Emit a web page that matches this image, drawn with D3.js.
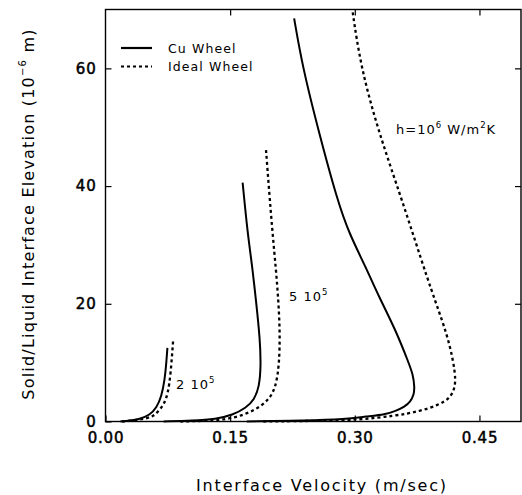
<!DOCTYPE html>
<html>
<head>
<meta charset="utf-8">
<script src="https://cdn.jsdelivr.net/npm/d3@7"></script>
<style>
  body { margin: 0; background: #fff; }
  text { font-family: "DejaVu Sans", sans-serif; fill: #000; }
</style>
</head>
<body>
<div id="chart"></div>
<script>
// values: [velocity m/s, elevation 1e-6 m]
const cu2 = [[0.018,0],[0.029,0.15],[0.041,0.4],[0.0533,1.1],[0.0613,2.3],[0.0673,4.2],[0.0713,7.1],[0.0732,10],[0.0745,12.5]];
const ideal2 = [[0.02,0],[0.035,0.2],[0.048,0.5],[0.0573,0.85],[0.0633,1.7],[0.070,2.8],[0.0753,4.8],[0.0785,8.2],[0.0813,13.6]];
const cu5 = [[0.07,0],[0.105,0.15],[0.133,0.4],[0.153,1.1],[0.169,2.3],[0.179,3.7],[0.185,5.9],[0.187,9.3],[0.186,13.9],[0.181,20.7],[0.176,27],[0.171,32],[0.165,40.6]];
const ideal5 = [[0.09,0],[0.12,0.1],[0.141,0.3],[0.161,0.85],[0.181,2.0],[0.197,3.7],[0.205,5.9],[0.209,9.6],[0.210,15],[0.208,20.7],[0.205,26],[0.201,32],[0.197,39],[0.193,46.4]];
const cu10 = [[0.17,0],[0.24,0.15],[0.289,0.4],[0.313,0.85],[0.337,1.2],[0.349,1.8],[0.360,2.5],[0.367,3.4],[0.371,4.5],[0.372,5.8],[0.370,8],[0.365,9.9],[0.349,15.6],[0.329,21.2],[0.313,26.3],[0.293,32],[0.279,37.6],[0.257,49],[0.237,60.3],[0.227,68.5]];
const ideal10 = [[0.19,0],[0.26,0.1],[0.305,0.3],[0.349,0.97],[0.377,1.7],[0.401,2.8],[0.415,4.0],[0.421,5.9],[0.421,8.2],[0.415,12.7],[0.405,17.3],[0.389,23.5],[0.357,37.6],[0.329,49],[0.307,60.3],[0.297,70]];

const xTicks = [0, 0.15, 0.30, 0.45];
const yTicks = [0, 20, 40, 60];

const width = 522;
const height = 495;
const mLeft = 105.5, mRight = 521, mTop = 9.5, mBottom = 421.5;

const svg = d3.select('#chart').append('svg')
    .attr('width', width)
    .attr('height', height);

const x = d3.scaleLinear().domain([0, 0.5]).range([mLeft, mRight]);
const y = d3.scaleLinear().domain([0, 70]).range([mBottom, mTop]);

// frame
svg.append('rect')
    .attr('x', mLeft).attr('y', mTop)
    .attr('width', mRight - mLeft).attr('height', mBottom - mTop)
    .attr('fill', 'none').attr('stroke', '#000').attr('stroke-width', 1.4);

// axes with inward ticks
const axisB = svg.append('g')
    .attr('transform', `translate(0,${mBottom})`)
    .call(d3.axisBottom(x).tickValues(xTicks).tickSize(-6).tickPadding(11).tickFormat(d3.format('.2f')));
const axisT = svg.append('g')
    .attr('transform', `translate(0,${mTop})`)
    .call(d3.axisTop(x).tickValues(xTicks.slice(1)).tickSize(-6).tickFormat(''));
const axisL = svg.append('g')
    .attr('transform', `translate(${mLeft},0)`)
    .call(d3.axisLeft(y).tickValues(yTicks).tickSize(-6).tickPadding(9).tickFormat(d3.format('d')));
const axisR = svg.append('g')
    .attr('transform', `translate(${mRight},0)`)
    .call(d3.axisRight(y).tickValues(yTicks.slice(1)).tickSize(-6).tickFormat(''));

[axisB, axisT, axisL, axisR].forEach(a => {
    a.select('.domain').remove();
    a.selectAll('line').attr('stroke', '#000').attr('stroke-width', 1.2);
    a.selectAll('text').style('font-size', '15px')
      .style('letter-spacing', '0.8px')
      .attr('stroke', '#000').attr('stroke-width', 0.5);
});

// curves
const line = d3.line()
    .x(d => x(d[0]))
    .y(d => y(d[1]))
    .curve(d3.curveBasis);

const curves = [
    { data: cu2, dash: null },
    { data: ideal2, dash: '3,3' },
    { data: cu5, dash: null },
    { data: ideal5, dash: '3,3' },
    { data: cu10, dash: null },
    { data: ideal10, dash: '3,3' }
];

svg.selectAll('.curve')
    .data(curves)
    .enter()
    .append('path')
    .attr('class', 'curve')
    .attr('d', d => line(d.data))
    .attr('fill', 'none')
    .attr('stroke', '#000')
    .attr('stroke-width', d => d.dash ? 2.3 : 2)
    .attr('stroke-dasharray', d => d.dash);

// legend
const legend = svg.append('g');
legend.append('line').attr('x1', 121).attr('x2', 152).attr('y1', 48).attr('y2', 48)
    .attr('stroke', '#000').attr('stroke-width', 2.2);
legend.append('line').attr('x1', 121).attr('x2', 152).attr('y1', 66.5).attr('y2', 66.5)
    .attr('stroke', '#000').attr('stroke-width', 2.2).attr('stroke-dasharray', '3,3');
legend.append('text').attr('x', 168).attr('y', 53).text('Cu Wheel')
    .style('font-size', '12.5px').style('letter-spacing', '1.1px');
legend.append('text').attr('x', 168).attr('y', 71).text('Ideal Wheel')
    .style('font-size', '12.5px').style('letter-spacing', '1.1px');

// annotations
function label(px, py, base, exp, rest) {
    const t = svg.append('text').attr('x', px).attr('y', py)
        .style('font-size', '13px').style('letter-spacing', '1px');
    t.append('tspan').text(base);
    t.append('tspan').attr('dy', -6).style('font-size', '8.5px').text(exp);
    if (rest) {
        t.append('tspan').attr('dy', 6).text(rest[0]);
        t.append('tspan').attr('dy', -6).style('font-size', '8.5px').text(rest[1]);
        t.append('tspan').attr('dy', 6).text(rest[2]);
    }
}
label(396, 134, 'h=10', '6', [' W/m', '2', 'K']);
label(289, 301, '5 10', '5');
label(176, 389, '2 10', '5');

// axis titles
svg.append('text')
    .attr('x', 322).attr('y', 491)
    .attr('text-anchor', 'middle')
    .style('font-size', '16px').style('letter-spacing', '1.8px')
    .text('Interface Velocity (m/sec)');

const yt = svg.append('text')
    .attr('transform', `translate(34,${214}) rotate(-90)`)
    .attr('text-anchor', 'middle')
    .style('font-size', '16px').style('letter-spacing', '1.2px');
yt.append('tspan').text('Solid/Liquid Interface Elevation (10');
yt.append('tspan').attr('dy', -8).style('font-size', '10px').text('−6');
yt.append('tspan').attr('dy', 8).text(' m)');
</script>
</body>
</html>
